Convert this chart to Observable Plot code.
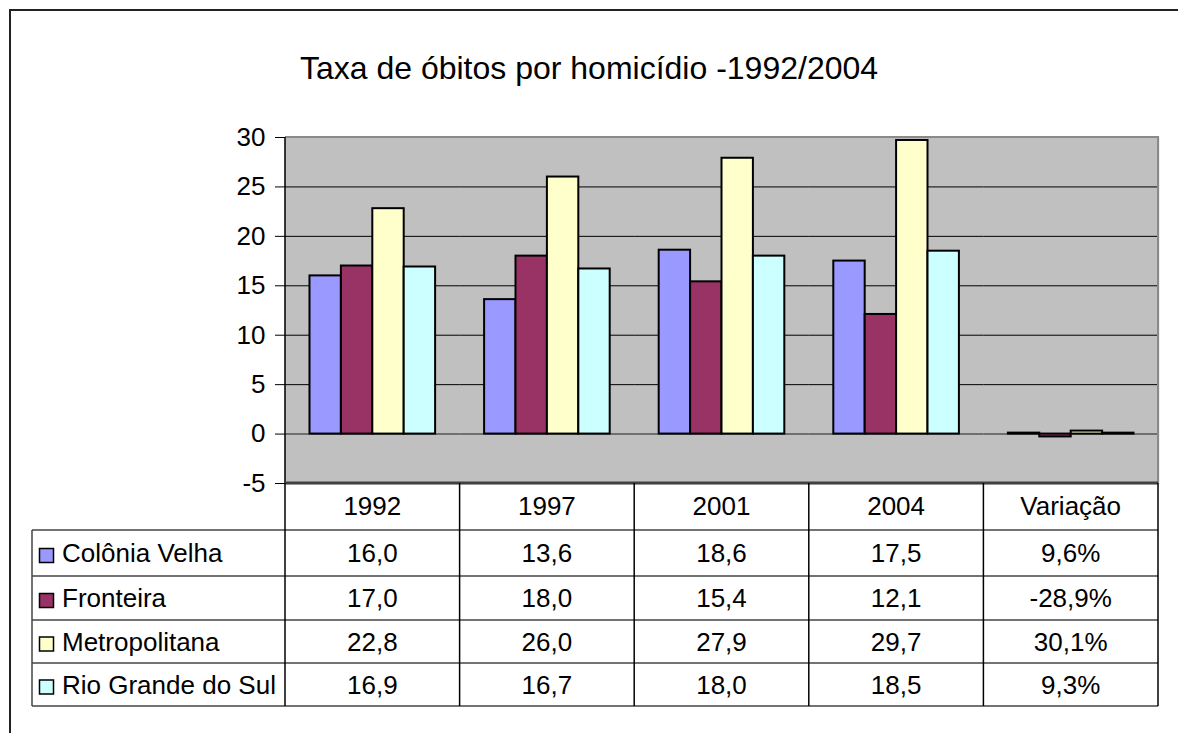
<!DOCTYPE html>
<html><head><meta charset="utf-8">
<script src="https://cdn.jsdelivr.net/npm/d3@7"></script>
<script src="https://cdn.jsdelivr.net/npm/@observablehq/plot@0.6"></script>
<style>
body{margin:0;background:#fff;}
#chart svg{display:block;}
</style></head><body><div id="chart"></div>
<script>
const title = "Taxa de óbitos por homicídio -1992/2004";
const categories = ["1992", "1997", "2001", "2004", "Variação"];
const series = ["Colônia Velha", "Fronteira", "Metropolitana", "Rio Grande do Sul"];
const colors = ["#9999FF", "#993366", "#FFFFCC", "#CCFFFF"];
const coloniaVelha = [16.0, 13.6, 18.6, 17.5, 0.096];
const fronteira = [17.0, 18.0, 15.4, 12.1, -0.289];
const metropolitana = [22.8, 26.0, 27.9, 29.7, 0.301];
const rioGrandeDoSul = [16.9, 16.7, 18.0, 18.5, 0.093];
const yTicks = [-5, 0, 5, 10, 15, 20, 25, 30];

const values = [coloniaVelha, fronteira, metropolitana, rioGrandeDoSul];
const data = [];
series.forEach((s, i) => categories.forEach((c, j) => data.push({series: s, category: c, value: values[i][j]})));

const ptLocale = d3.formatLocale({decimal: ",", thousands: ".", grouping: [3], currency: ["R$", ""], minus: "-"});
const fmtNum = ptLocale.format(".1f");
const fmtPct = ptLocale.format(".1%");
const cellText = (cat, v) => cat === "Variação" ? fmtPct(v) : fmtNum(v);

const W = 1178, H = 733;
const font = "'Liberation Sans', Arial, sans-serif";

const chart = Plot.plot({
  width: W, height: H,
  marginLeft: 285, marginRight: 20, marginTop: 137, marginBottom: 250,
  style: {fontFamily: font, background: "white", color: "black", overflow: "visible"},
  fx: {domain: categories, padding: 0, axis: null, round: false},
  x: {domain: series, paddingInner: 0, paddingOuter: 0.78, axis: null, round: false},
  y: {domain: [-5, 30], axis: null},
  color: {domain: series, range: colors},
  marks: [
    Plot.frame({fill: "#C0C0C0", stroke: "#C0C0C0", strokeWidth: 1.5}),
    Plot.ruleY(yTicks.filter(t => t > 0), {stroke: "black", strokeWidth: 1}),
    Plot.ruleY([0], {stroke: "#555", strokeWidth: 1.5}),
    Plot.barY(data, {fx: "category", x: "series", y: "value", fill: "series", stroke: "black", strokeWidth: 2}),
    Plot.axisY(yTicks, {anchor: "left", tickSize: 10, tickPadding: 10, fontSize: 26, label: null, tickFormat: d => String(d), stroke: "black"})
  ]
});
document.getElementById("chart").appendChild(chart);

// Overlay: title, frame lines, data table — positioned via the plot's own scales
const svg = d3.select(chart);
const fx = chart.scale("fx"), y = chart.scale("y");
const bw = fx.bandwidth;
const colX = c => fx.apply(c);
const left = colX(categories[0]);
const right = colX(categories[categories.length - 1]) + bw;
const yTop = y.apply(30), yBot = y.apply(-5);

const g = svg.append("g").attr("font-family", font).attr("fill", "black").attr("text-anchor", "start");

g.append("text").attr("x", W / 2).attr("y", 79).attr("text-anchor", "middle")
  .attr("font-size", 32).text(title);

g.append("path").attr("d", `M10,${H} V10 H${W}`).attr("fill", "none").attr("stroke", "#222").attr("stroke-width", 2);

// plot area edges
g.append("path").attr("d", `M${left},${yTop} H${right} V${yBot}`).attr("fill", "none").attr("stroke", "#8a8a8a").attr("stroke-width", 2);
g.append("line").attr("x1", left).attr("x2", left).attr("y1", yTop).attr("y2", yBot).attr("stroke", "black").attr("stroke-width", 1.5);
g.append("line").attr("x1", left).attr("x2", right).attr("y1", yBot).attr("y2", yBot).attr("stroke", "#404040").attr("stroke-width", 3);

// table
const tableLeft = 32;
const rowHeights = [47, 46, 44, 43, 43];
const rowTops = [yBot];
rowHeights.forEach((h, i) => rowTops.push(rowTops[i] + h));
const tableBottom = rowTops[rowTops.length - 1];
const fs = 26;

for (let i = 1; i < rowTops.length; i++) {
  g.append("line").attr("x1", tableLeft).attr("x2", right).attr("y1", rowTops[i]).attr("y2", rowTops[i])
    .attr("stroke", "#444").attr("stroke-width", 1.5);
}
g.append("line").attr("x1", tableLeft).attr("x2", tableLeft).attr("y1", rowTops[1]).attr("y2", tableBottom)
  .attr("stroke", "#444").attr("stroke-width", 1.5);
[...categories.map(colX), right].forEach(x => {
  g.append("line").attr("x1", x).attr("x2", x).attr("y1", yBot).attr("y2", tableBottom)
    .attr("stroke", "black").attr("stroke-width", 1.5);
});

const rowMid = i => (rowTops[i] + rowTops[i + 1]) / 2;
categories.forEach(c => {
  g.append("text").attr("x", colX(c) + bw / 2).attr("y", rowMid(0) + 8).attr("text-anchor", "middle")
    .attr("font-size", fs).text(c);
});
series.forEach((s, i) => {
  const m = rowMid(i + 1);
  g.append("rect").attr("x", 39.5).attr("y", m - 4.5).attr("width", 14).attr("height", 14)
    .attr("fill", colors[i]).attr("stroke", "black").attr("stroke-width", 1.5);
  g.append("text").attr("x", 62).attr("y", m + 9).attr("text-anchor", "start").attr("font-size", fs).text(s);
  categories.forEach((c, j) => {
    g.append("text").attr("x", colX(c) + bw / 2).attr("y", m + 9).attr("text-anchor", "middle")
      .attr("font-size", fs).text(cellText(c, values[i][j]));
  });
});
</script></body></html>
